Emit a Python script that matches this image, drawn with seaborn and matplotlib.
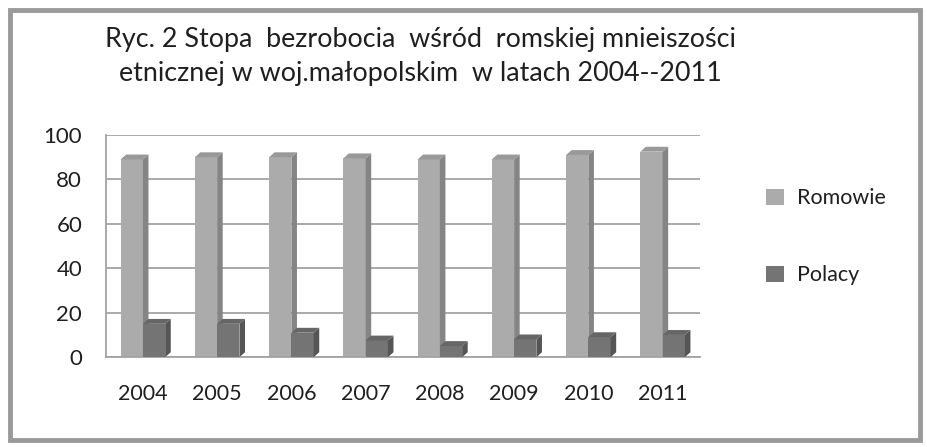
import numpy as np
import pandas as pd
import matplotlib
matplotlib.use("Agg")
import matplotlib.pyplot as plt
import seaborn as sns
from matplotlib.patches import Polygon, Rectangle

# dane (stopa bezrobocia w %)
YEARS = ["2004", "2005", "2006", "2007", "2008", "2009", "2010", "2011"]
SERIES = ["Romowie", "Polacy"]
ROMOWIE = [89, 90, 90, 89.5, 89, 89, 91, 92.5]
POLACY = [15, 15, 11, 7.5, 5, 8, 9, 10]
Y_TICKS = [0, 20, 40, 60, 80, 100]

TITLE = ("Ryc. 2 Stopa  bezrobocia  wśród  romskiej mnieiszości\n"
         "etnicznej w woj.małopolskim  w latach 2004--2011")

FRONT = {"Romowie": "#ababab", "Polacy": "#747474"}
SIDE = {"Romowie": "#858585", "Polacy": "#555555"}
TOP = {"Romowie": "#999999", "Polacy": "#666666"}
TEXT = "#1f1f1f"
GRID = "#a3a3a3"

df = pd.DataFrame({
    "rok": YEARS * 2,
    "grupa": [SERIES[0]] * len(YEARS) + [SERIES[1]] * len(YEARS),
    "stopa": ROMOWIE + POLACY,
})

sns.set_theme(style="white")
plt.rcParams["font.family"] = ["Lato", "DejaVu Sans"]

fig = plt.figure(figsize=(9.28, 4.47), dpi=100)
ax = fig.add_axes([0.114, 0.201, 0.640, 0.497])

sns.barplot(data=df, x="rok", y="stopa", hue="grupa", hue_order=SERIES,
            palette=FRONT, width=0.6, gap=0, saturation=1,
            edgecolor="none", ax=ax, legend=True)

# udawany efekt 3D: boczna i górna ściana każdego słupka
dx, dy = 0.075, 2.2
for zi, (cont, name) in enumerate(zip(ax.containers, SERIES)):
    for bar in cont:
        bar.set_zorder(2 + 2 * zi)
        x0, w, h = bar.get_x(), bar.get_width(), bar.get_height()
        side = Polygon([(x0 + w, 0), (x0 + w + dx, dy), (x0 + w + dx, h + dy), (x0 + w, h)],
                       closed=True, facecolor=SIDE[name], edgecolor="none",
                       zorder=2.5 + 2 * zi, clip_on=False)
        top = Polygon([(x0, h), (x0 + dx, h + dy), (x0 + w + dx, h + dy), (x0 + w, h)],
                      closed=True, facecolor=TOP[name], edgecolor="none",
                      zorder=2.5 + 2 * zi, clip_on=False)
        ax.add_patch(side)
        ax.add_patch(top)

ax.set_ylim(0, 100)
ax.set_xlim(-0.5, len(YEARS) - 0.5)
ax.set_yticks(Y_TICKS)
ax.set_xlabel("")
ax.set_ylabel("")
ax.yaxis.grid(True, color=GRID, linewidth=1.3)
ax.set_axisbelow(True)
for s in ["top", "right"]:
    ax.spines[s].set_visible(False)
for s in ["left", "bottom"]:
    ax.spines[s].set_color(GRID)
    ax.spines[s].set_linewidth(1.3)
ax.tick_params(axis="y", length=0, labelsize=16, pad=17, colors=TEXT)
ax.tick_params(axis="x", length=0, labelsize=15.5, pad=19, colors=TEXT)

handles, labels = ax.get_legend_handles_labels()
ax.legend(handles, labels, loc="upper left", bbox_to_anchor=(0.805, 0.622),
          bbox_transform=fig.transFigure, frameon=False, fontsize=15.5,
          labelspacing=2.65, handlelength=0.8, handleheight=0.8,
          handletextpad=0.6, labelcolor=TEXT)

fig.text(0.4526, 0.874, TITLE, ha="center", va="center", fontsize=19.4,
         color=TEXT, linespacing=1.45)

# ramka wokół całego wykresu
fig.patches.append(Rectangle((10 / 928, 7 / 447), 910 / 928, 430 / 447,
                             transform=fig.transFigure, fill=False,
                             edgecolor="#9a9a9a", linewidth=3.5))

fig.savefig("out.png", dpi=100)
